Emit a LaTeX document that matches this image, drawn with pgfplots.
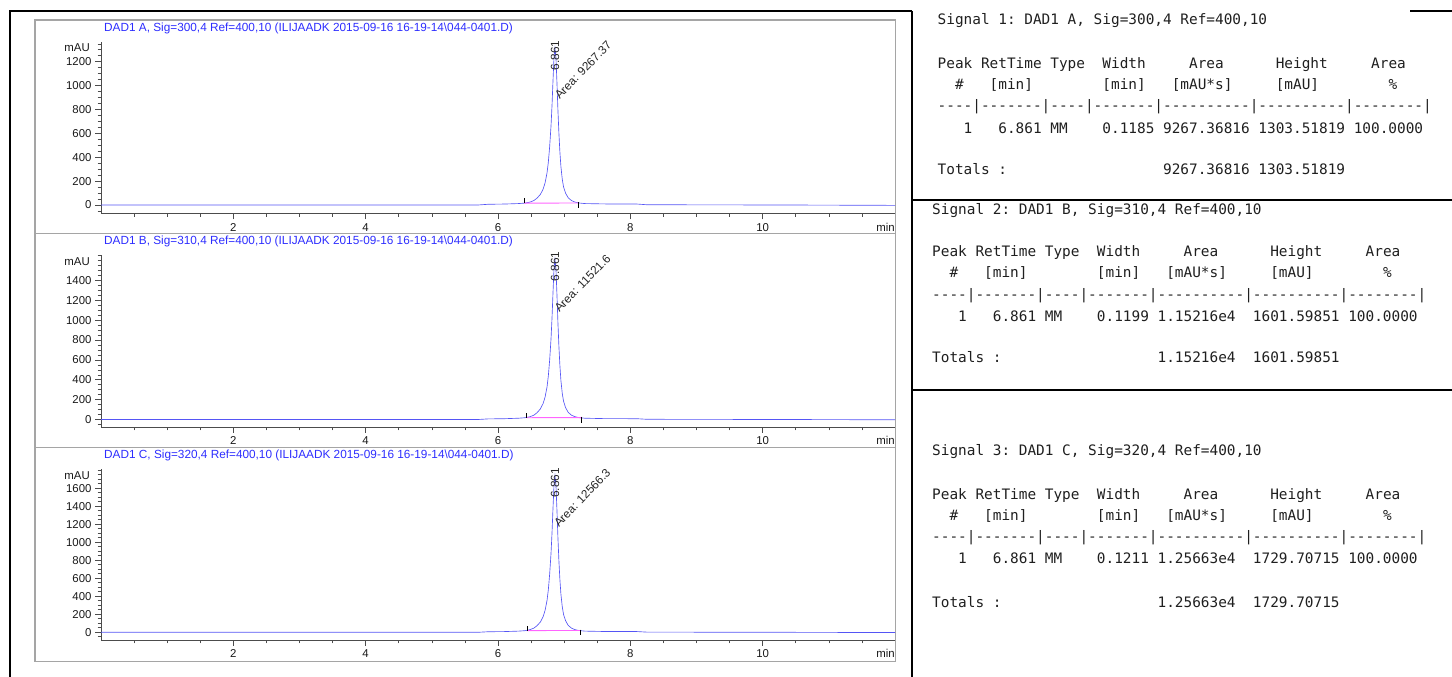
\documentclass[border=0pt]{standalone}
\usepackage{fontspec}
\setmainfont{Liberation Sans}
\setmonofont{DejaVu Sans Mono}
\usepackage{pgfplots}
\usepackage{pgfplotstable}
\pgfplotsset{compat=1.18}

\definecolor{trace}{RGB}{85,85,245}
\definecolor{titleblue}{RGB}{45,45,255}
\definecolor{pinkbase}{RGB}{255,100,255}
\definecolor{framegray}{RGB}{165,165,165}

\newcommand\cf{\fontsize{11.4}{13}\selectfont}
\newcommand\af{\fontsize{11.8}{14}\selectfont}
\newcommand\tf{\fontsize{11.8}{14}\selectfont}
\newcommand\mf{\ttfamily\frenchspacing\fontsize{14.4}{17}\selectfont}

\pgfplotstableread{
t A B C
0 0 0 0
5.70 0 0 0
5.85 6 6 6
6.10 8 8 8
6.311 12 13 13
6.411 16 18 18
6.481 24 27 29
6.541 37 43 46
6.591 58 69 74
6.641 89 107 115
6.681 132 160 172
6.711 184 224 242
6.741 269 328 354
6.761 360 440 475
6.781 490 601 648
6.801 660 809 873
6.816 829 1017 1098
6.831 1038 1273 1374
6.846 1233 1514 1634
6.861 1311 1610 1738
6.876 1233 1514 1634
6.891 1025 1257 1357
6.906 790 969 1046
6.921 595 729 786
6.936 438 537 579
6.951 321 392 423
6.971 217 264 285
6.991 151 184 198
7.021 99 120 129
7.061 60 72 77
7.111 37 43 46
7.161 25 29 30
7.221 17 19 20
7.311 12 13 13
7.60 9 9 9
8.10 8 8 8
8.25 2 2 2
10.30 0 0 0
12.00 -3 -3 -3
}\peakdata

\pgfplotsset{chrom/.style={
  scale only axis, width=794pt, anchor=south west,
  xmin=0, xmax=12, clip=false,
  axis x line*=bottom, axis y line*=left,
  axis line style={-, draw=black!70, line width=0.6pt},
  xtick={2,4,6,8,10}, minor xtick={0.5,1,...,11.5},
  tick align=outside,
  major tick length=6pt, minor tick length=3.5pt,
  tick style={black!70, line width=0.6pt},
  ticklabel style={font=\cf, text=black!90},
  xticklabel shift=0.5pt,
  /pgf/number format/assume math mode=true,
  /pgf/number format/1000 sep={},
}}

\begin{document}
\begin{tikzpicture}[x=1pt,y=1pt]
\path[use as bounding box] (0,0) rectangle (1452,677);

% page lines
\draw[black, line width=2.5pt] (10,666) -- (10,0);
\draw[black, line width=2.5pt] (9,666) -- (912,666);
\draw[black, line width=2.5pt] (1410,666) -- (1452,666);
\draw[black, line width=2.5pt] (912,666) -- (912,0);
\draw[black, line width=2.5pt] (912,477) -- (1452,477);
\draw[black, line width=2.5pt] (912,287) -- (1452,287);

% chromatogram frame
\draw[framegray, line width=1.3pt] (35,657) rectangle (895.5,15.3);
\draw[framegray, line width=1.3pt] (35,443.7) -- (895.5,443.7);
\draw[framegray, line width=1.3pt] (35,229.3) -- (895.5,229.3);

% titles
\node[anchor=west, inner sep=0, font=\tf, text=titleblue] at (104,648.7) {DAD1 A, Sig=300,4 Ref=400,10 (ILIJAADK 2015-09-16 16-19-14\textbackslash 044-0401.D)};
\node[anchor=west, inner sep=0, font=\tf, text=titleblue] at (104,435.3) {DAD1 B, Sig=310,4 Ref=400,10 (ILIJAADK 2015-09-16 16-19-14\textbackslash 044-0401.D)};
\node[anchor=west, inner sep=0, font=\tf, text=titleblue] at (104,222) {DAD1 C, Sig=320,4 Ref=400,10 (ILIJAADK 2015-09-16 16-19-14\textbackslash 044-0401.D)};

% panel 1
\begin{axis}[chrom, at={(101pt,463.7pt)}, height=171.6pt,
  ymin=-69.5, ymax=1367.7, ytick={0,200,...,1200}, minor ytick={-50,0,...,1350}]
\addplot[trace, line width=0.65pt] table[x=t,y=A]{\peakdata};
\addplot[pinkbase, line width=0.9pt] coordinates {(6.395,15)(7.22,17)};
\addplot[black, line width=0.5pt] coordinates {(6.395,15)(6.395,55)};
\addplot[black, line width=0.5pt] coordinates {(7.22,25)(7.22,-25)};
\node[rotate=90, font=\af, text=black!85, inner sep=0] at (axis cs:6.861,1252) {6.861};
\node[rotate=46, anchor=base west, font=\af, text=black!85, inner sep=0] at (axis cs:6.933,879) {Area: 9267.37};
\node[anchor=east, font=\cf, text=black!90, inner sep=0] at (rel axis cs:0,1) [xshift=-11pt, yshift=-6pt] {mAU};
\node[anchor=east, font=\cf, text=black!90, inner sep=0] at (rel axis cs:1,0) [yshift=-13.7pt] {min};
\end{axis}

% panel 2
\begin{axis}[chrom, at={(101pt,250pt)}, height=171.5pt,
  ymin=-75.5, ymax=1651.6, ytick={0,200,...,1400}, minor ytick={-50,0,...,1650}]
\addplot[trace, line width=0.65pt] table[x=t,y=B]{\peakdata};
\addplot[pinkbase, line width=0.9pt] coordinates {(6.43,18)(7.26,19)};
\addplot[black, line width=0.5pt] coordinates {(6.43,18)(6.43,68)};
\addplot[black, line width=0.5pt] coordinates {(7.26,28)(7.26,-32)};
\node[rotate=90, font=\af, text=black!85, inner sep=0] at (axis cs:6.861,1540) {6.861};
\node[rotate=46, anchor=base west, font=\af, text=black!85, inner sep=0] at (axis cs:6.93,1072) {Area: 11521.6};
\node[anchor=east, font=\cf, text=black!90, inner sep=0] at (rel axis cs:0,1) [xshift=-11pt, yshift=-6pt] {mAU};
\node[anchor=east, font=\cf, text=black!90, inner sep=0] at (rel axis cs:1,0) [yshift=-13.7pt] {min};
\end{axis}

% panel 3
\begin{axis}[chrom, at={(101pt,37pt)}, height=170.7pt,
  ymin=-85.6, ymax=1811, ytick={0,200,...,1600}, minor ytick={-50,0,...,1800}]
\addplot[trace, line width=0.65pt] table[x=t,y=C]{\peakdata};
\addplot[pinkbase, line width=0.9pt] coordinates {(6.44,19)(7.245,20)};
\addplot[black, line width=0.5pt] coordinates {(6.44,19)(6.44,74)};
\addplot[black, line width=0.5pt] coordinates {(7.245,30)(7.245,-35)};
\node[rotate=90, font=\af, text=black!85, inner sep=0] at (axis cs:6.861,1660) {6.861};
\node[rotate=46, anchor=base west, font=\af, text=black!85, inner sep=0] at (axis cs:6.92,1159) {Area: 12566.3};
\node[anchor=east, font=\cf, text=black!90, inner sep=0] at (rel axis cs:0,1) [xshift=-11pt, yshift=-6pt] {mAU};
\node[anchor=east, font=\cf, text=black!90, inner sep=0] at (rel axis cs:1,0) [yshift=-13.7pt] {min};
\end{axis}

% tables
\begin{scope}[every node/.style={anchor=base west, inner sep=0, font=\mf, text=black!88}]
\node at (937.5,652) {Signal~1:~DAD1~A,~Sig=300,4~Ref=400,10};
\node at (937.5,608) {Peak~RetTime~Type~~Width~~~~~Area~~~~~~Height~~~~~Area};
\node at (937.5,587) {~~\#~~~[min]~~~~~~~~[min]~~~[mAU*s]~~~~~[mAU]~~~~~~~~\%};
\node at (937.5,566) {----|-------|----|-------|----------|----------|--------|};
\node at (937.5,543) {~~~1~~~6.861~MM~~~~0.1185~9267.36816~1303.51819~100.0000};
\node at (937.5,502) {Totals~:~~~~~~~~~~~~~~~~~~9267.36816~1303.51819};

\node at (932,462) {Signal~2:~DAD1~B,~Sig=310,4~Ref=400,10};
\node at (932,420) {Peak~RetTime~Type~~Width~~~~~Area~~~~~~Height~~~~~Area};
\node at (932,399) {~~\#~~~[min]~~~~~~~~[min]~~~[mAU*s]~~~~~[mAU]~~~~~~~~\%};
\node at (932,377) {----|-------|----|-------|----------|----------|--------|};
\node at (932,355) {~~~1~~~6.861~MM~~~~0.1199~1.15216e4~~1601.59851~100.0000};
\node at (932,314) {Totals~:~~~~~~~~~~~~~~~~~~1.15216e4~~1601.59851};

\node at (932,221) {Signal~3:~DAD1~C,~Sig=320,4~Ref=400,10};
\node at (932,177) {Peak~RetTime~Type~~Width~~~~~Area~~~~~~Height~~~~~Area};
\node at (932,156) {~~\#~~~[min]~~~~~~~~[min]~~~[mAU*s]~~~~~[mAU]~~~~~~~~\%};
\node at (932,135) {----|-------|----|-------|----------|----------|--------|};
\node at (932,113) {~~~1~~~6.861~MM~~~~0.1211~1.25663e4~~1729.70715~100.0000};
\node at (932,69) {Totals~:~~~~~~~~~~~~~~~~~~1.25663e4~~1729.70715};
\end{scope}
\end{tikzpicture}
\end{document}
